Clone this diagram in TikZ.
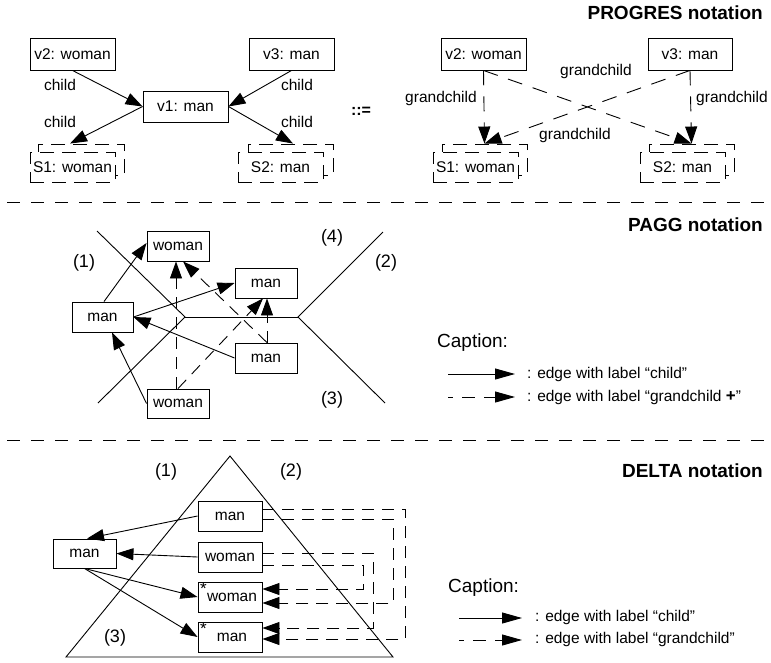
\documentclass[tikz,border=0pt]{standalone}
\usepackage{fontspec}
\setmainfont{Liberation Sans}
\usetikzlibrary{arrows.meta,calc}

\tikzset{
  lw/.style={line width=0.9pt},
  box/.style={draw, lw, fill=white, minimum height=30pt},
  setbox/.style={box, dash pattern=on 14pt off 8pt},
  childarr/.style={lw, -{Triangle[length=17pt,width=12pt]}},
  gcarr/.style={childarr, dash pattern=on 15pt off 11pt},
  gcarrb/.style={childarr, dash pattern=on 12pt off 8pt},
  capsolid/.style={lw, -{Triangle[length=20pt,width=11pt]}},
  capdash/.style={capsolid, dash pattern=on 13pt off 9pt, dash phase=8pt},
  sepline/.style={lw, dash pattern=on 13pt off 11pt},
  title/.style={anchor=east, font=\fontsize{19}{22}\selectfont\bfseries},
  region/.style={font=\fontsize{18}{21}\selectfont},
  captitle/.style={anchor=west, font=\fontsize{19}{22}\selectfont},
  captext/.style={anchor=west},
}

\begin{document}
\begin{tikzpicture}[x=1pt, y=-1pt,
  every node/.style={font=\fontsize{15.5}{18}\selectfont, inner sep=0pt}]
\useasboundingbox (0,0) rectangle (771,662);

% ---------------- PROGRES notation ----------------
\node[title] (t1) at (763,13) {PROGRES notation};

% left-hand side of the production
\node[box, minimum width=85pt, minimum height=32pt] (v2) at (72.5,54) {v2: woman};
\node[box, minimum width=85pt, minimum height=32pt] (v3) at (291.5,54) {v3: man};
\node[box, minimum width=85pt, minimum height=31pt] (v1) at (185.5,106.5) {v1: man};
\node[setbox, minimum width=86pt, minimum height=31pt] (S1b) at (81,159.5) {};
\node[setbox, minimum width=85pt] (S1) at (72.5,167) {S1: woman};
\node[setbox, minimum width=85pt, minimum height=31pt] (S2b) at (290.5,159.5) {};
\node[setbox, minimum width=85pt] (S2) at (280.5,167) {S2: man};

\draw[childarr] (v2.south) -- (v1.west);
\draw[childarr] (v3.south) -- (v1.east);
\draw[childarr] (v1.west) -- ([xshift=-11pt]S1b.north);
\draw[childarr] (v1.east) -- ([xshift=2.5pt]S2b.north);

\node (l1) at (60,85) {child};
\node (l2) at (60,122) {child};
\node (l3) at (297,85) {child};
\node (l4) at (297,122) {child};

\node[font=\fontsize{16}{18}\selectfont\bfseries] (def) at (361,111) {::=};

% right-hand side of the production
\node[box, minimum width=85pt, minimum height=32pt] (w2) at (483.5,54) {v2: woman};
\node[box, minimum width=84pt, minimum height=32pt] (w3) at (690,54) {v3: man};
\node[setbox, minimum width=85pt, minimum height=31pt] (T1b) at (484.5,159.5) {};
\node[setbox, minimum width=85pt] (T1) at (475.5,167) {S1: woman};
\node[setbox, minimum width=85pt, minimum height=31pt] (T2b) at (691.5,159.5) {};
\node[setbox, minimum width=85pt] (T2) at (682.5,167) {S2: man};

\draw[gcarr] (w2.south) -- (T1b.north);
\draw[gcarr] (w2.south) -- (T2b.north);
\draw[gcarr] (w3.south) -- (T1b.north);
\draw[gcarr] (w3.south) -- (T2b.north);

\node (g1) at (441,98) {grandchild};
\node (g2) at (596,71) {grandchild};
\node (g3) at (732,98) {grandchild};
\node (g4) at (575,135) {grandchild};

\draw[sepline] (7,202) -- (771,202);

% ---------------- PAGG notation ----------------
\node[title] (t2) at (763,225) {PAGG notation};

% region borders
\draw[lw] (97,231) -- (185,317) -- (98,403);
\draw[lw] (185,317) -- (298,317);
\draw[lw] (383,232) -- (298,317) -- (385,403);

\node[region] (r1) at (84,263) {(1)};
\node[region] (r4) at (332,238) {(4)};
\node[region] (r2) at (386,263) {(2)};
\node[region] (r3) at (332,400) {(3)};

\node[box, minimum width=62pt] (pw1) at (178,246) {woman};
\node[box, minimum width=62pt] (pm2) at (266,283) {man};
\node[box, minimum width=61pt] (pm1) at (102.5,317) {man};
\node[box, minimum width=62pt] (pm3) at (266,358) {man};
\node[box, minimum width=62pt, minimum height=29pt] (pw2) at (178,403.5) {woman};

\draw[childarr] ([xshift=1.5pt]pm1.north) -- ([yshift=3pt]pw1.west);
\draw[childarr] (pm1.east) -- (pm2.west);
\draw[childarr] (pm3.west) -- (pm1.east);
\draw[childarr] (pw2.west) -- ([xshift=9.5pt]pm1.south);

\draw[gcarrb] ([xshift=-2pt]pw2.north) -- ([xshift=-2pt]pw1.south);
\draw[gcarrb] (pw2.north) -- ([xshift=-3pt]pm2.south);
\draw[gcarrb] ([xshift=1pt]pm3.north) -- ([xshift=1pt]pm2.south);
\draw[gcarrb] ([xshift=1pt]pm3.north) -- ([xshift=5pt]pw1.south);

% caption
\node[captitle] (cap1) at (437,343) {Caption:};
\coordinate (a1s) at (448,374);
\coordinate (a1e) at (515,374);
\coordinate (a2s) at (448,397);
\coordinate (a2e) at (515,397);
\draw[capsolid] (a1s) -- (a1e);
\draw[capdash] (a2s) -- (a2e);
\node[captext] (ct1) at (527,374) {: edge with label “child”};
\node[captext] (ct2) at (527,397) {: edge with label “grandchild {\bfseries\fontsize{17}{18}\selectfont +}”};

\draw[sepline] (7,440) -- (771,440);

% ---------------- DELTA notation ----------------
\node[title] (t3) at (763,471) {DELTA notation};

\draw[lw] (230,456) -- (66,657) -- (393,657) -- cycle;

\node[region] (d1) at (166,472) {(1)};
\node[region] (d2) at (291,472) {(2)};
\node[region] (d3) at (115,638) {(3)};

\node[box, minimum width=63pt, minimum height=29pt] (dm1) at (84.5,553.5) {man};
\node[box, minimum width=64pt] (dm2) at (230,516) {man};
\node[box, minimum width=64pt] (dw1) at (230,557) {woman};
\node[box, minimum width=64pt] (dw2) at (230,597) {\hspace*{4pt}woman};
\node[box, minimum width=64pt] (dm3) at (230,637) {\hspace*{4pt}man};
\node[anchor=north, font=\fontsize{17}{18}\selectfont] (st1) at ([xshift=6pt,yshift=-1.5pt]dw2.north west) {*};
\node[anchor=north, font=\fontsize{17}{18}\selectfont] (st2) at ([xshift=6pt,yshift=-1.5pt]dm3.north west) {*};

\draw[childarr] (dm2.west) -- ([xshift=2.5pt]dm1.north);
\draw[childarr] (dw1.west) -- (dm1.east);
\draw[childarr] (dm1.south) -- (dw2.west);
\draw[childarr] (dm1.south) -- (dm3.west);

\draw[gcarrb] ([yshift=7pt]dm2.east) -- ++(143,0) |- ([yshift=-2pt]dm3.east);
\draw[gcarrb] ([yshift=-3pt]dm2.east) -- ++(131,0) |- ([yshift=-6pt]dw2.east);
\draw[gcarrb] ([yshift=4pt]dw1.east) -- ++(111,0) |- ([yshift=9pt]dm3.east);
\draw[gcarrb] ([yshift=-8pt]dw1.east) -- ++(101,0) |- ([yshift=8pt]dw2.east);

% caption
\node[captitle] (cap2) at (448,588) {Caption:};
\coordinate (b1s) at (459,618);
\coordinate (b1e) at (522,618);
\coordinate (b2s) at (459,640);
\coordinate (b2e) at (522,640);
\draw[capsolid] (b1s) -- (b1e);
\draw[capdash] (b2s) -- (b2e);
\node[captext] (dt1) at (535,617) {: edge with label “child”};
\node[captext] (dt2) at (535,639) {: edge with label “grandchild”};

\end{tikzpicture}
\end{document}
